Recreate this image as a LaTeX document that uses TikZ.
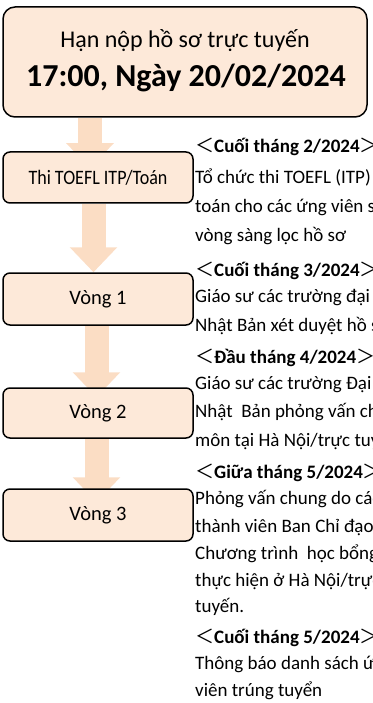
\documentclass[tikz,border=0pt]{standalone}
\usepackage{fontspec}
\setmainfont{Carlito}
\newfontfamily\cjk{Noto Sans CJK JP}
\usepackage{graphicx}
\usetikzlibrary{arrows.meta, backgrounds}
\definecolor{boxfill}{RGB}{253,233,217}
\definecolor{arrowfill}{RGB}{251,221,196}

\begin{document}
\begin{tikzpicture}[x=1pt, y=-1pt]
	\tikzset{stage/.style={draw, rectangle, rounded corners=7pt, fill=boxfill, line width=1.5pt, minimum width=190pt, font=\fontsize{20.5}{24}\selectfont}}
	\tikzset{flow/.style={draw=arrowfill, line width=24pt, -{Triangle[width=46pt, length=25pt, fill=arrowfill]}}}
	\tikzset{note/.style={anchor=base west, inner sep=0pt, font=\fontsize{19}{22}\selectfont}}
	
	\useasboundingbox (0,0) rectangle (372,703);
	\clip (0,0) rectangle (372,703);
	
	% deadline
	\node(deadline) at (185,62) [stage, rounded corners=12pt, minimum width=364pt, minimum height=110pt] {};
	\node(title) at (185,48) [anchor=base, font=\fontsize{24}{29}\selectfont] {Hạn nộp hồ sơ trực tuyến};
	\node(date) at (186,87) [anchor=base, font=\fontsize{32}{38}\selectfont\bfseries] {17:00, Ngày 20/02/2024};
	
	% stages
	\node(exam) at (98,177.5) [stage, minimum height=51pt] {\scalebox{0.88}[1]{Thi TOEFL ITP/Toán}};
	\node(round1) at (98,299) [stage, minimum height=52pt] {Vòng 1};
	\node(round2) at (98,413) [stage, minimum height=50pt] {Vòng 2};
	\node(round3) at (98,515) [stage, minimum height=52pt] {Vòng 3};
	
	\begin{scope}[on background layer]
		\draw[flow, shorten >=-17pt] ([xshift=-95pt]deadline.south) -- ([xshift=-8pt]exam.north);
		\draw[flow] ([xshift=-4.5pt]exam.south) -- ([xshift=-4.5pt]round1.north);
		\draw[flow, shorten >=-10pt] ([xshift=-1.5pt]round1.south) -- ([xshift=-1.5pt]round2.north);
		\draw[flow, shorten >=-14pt] ([xshift=-1.5pt]round2.south) -- ([xshift=-1.5pt]round3.north);
	\end{scope}
	
	% timeline notes
	\node(when1) at (195,153) [note] {{\cjk ＜}\textbf{Cuối tháng 2/2024}{\cjk ＞}};
	\node(what1a) at (195,184) [note] {Tổ chức thi TOEFL (ITP)};
	\node(what1b) at (195,212) [note] {toán cho các ứng viên s};
	\node(what1c) at (195,241) [note] {vòng sàng lọc hồ sơ};
	
	\node(when2) at (195,276) [note] {{\cjk ＜}\textbf{Cuối tháng 3/2024}{\cjk ＞}};
	\node(what2a) at (195,302) [note] {Giáo sư các trường đại};
	\node(what2b) at (195,331) [note] {Nhật Bản xét duyệt hồ s};
	
	\node(when3) at (195,363) [note] {{\cjk ＜}\textbf{Đầu tháng 4/2024}{\cjk ＞}};
	\node(what3a) at (195,389) [note] {Giáo sư các trường Đại};
	\node(what3b) at (195,417) [note] {Nhật\ \ Bản phỏng vấn ch};
	\node(what3c) at (195,446) [note] {môn tại Hà Nội/trực tuy};
	
	\node(when4) at (195,478) [note] {{\cjk ＜}\textbf{Giữa tháng 5/2024}{\cjk ＞}};
	\node(what4a) at (195,504) [note] {Phỏng vấn chung do các};
	\node(what4b) at (195,532) [note] {thành viên Ban Chỉ đạo};
	\node(what4c) at (195,559) [note] {Chương trình\ \ học bổng};
	\node(what4d) at (195,586) [note] {thực hiện ở Hà Nội/trực};
	\node(what4e) at (195,612) [note] {tuyến.};
	
	\node(when5) at (195,643) [note] {{\cjk ＜}\textbf{Cuối tháng 5/2024}{\cjk ＞}};
	\node(what5a) at (195,669) [note] {Thông báo danh sách ứ};
	\node(what5b) at (195,696) [note] {viên trúng tuyển};
\end{tikzpicture}
\end{document}
